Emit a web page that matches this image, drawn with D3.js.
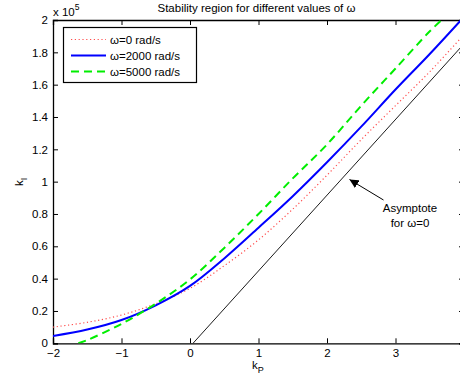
<!DOCTYPE html>
<html>
<head>
<meta charset="utf-8">
<script src="https://cdn.jsdelivr.net/npm/d3@7"></script>
<style>
  body { margin: 0; background: #fff; }
  text { font-family: "Liberation Sans", Arial, Helvetica, sans-serif; }
</style>
</head>
<body>
<svg id="chart" width="460" height="379"></svg>
<script>
// values (kI in absolute units)
const kpRed = [-2, -1.5, -1, -0.5, 0, 0.5, 1, 1.5, 2, 2.5, 3, 3.5, 4];
const kiRed = [10000, 13000, 17500, 24500, 34000, 48000, 64000, 83000, 104000, 126000, 147000, 168000, 191000];

const kpBlue = [-2, -1.5, -1, -0.5, 0, 0.5, 1, 1.5, 2, 2.5, 3, 3.5, 4];
const kiBlue = [4500, 8500, 14400, 23500, 35500, 52500, 71500, 91000, 112000, 134000, 157000, 179000, 202000];

const kpGreen = [-1.63, -1.5, -1, -0.5, 0, 0.5, 1, 1.5, 2, 2.5, 3, 3.5, 3.7];
const kiGreen = [0, 2000, 12000, 24500, 39500, 59000, 80000, 102000, 123000, 147000, 170000, 193000, 201000];

const kpAsym = [0.044, 4];
const kiAsym = [0, 185300];

const xTicks = [-2, -1, 0, 1, 2, 3, 4];
const yTicks = [0, 20000, 40000, 60000, 80000, 100000, 120000, 140000, 160000, 180000, 200000];

const legendLabels = ["ω=0 rad/s", "ω=2000 rad/s", "ω=5000 rad/s"];

const svg = d3.select("#chart");
const m = { left: 53, right: 464, top: 20, bottom: 343.3 };

const x = d3.scaleLinear().domain([-2, 4]).range([m.left, m.right]);
const y = d3.scaleLinear().domain([0, 200000]).range([m.bottom, m.top]);

svg.append("defs").append("clipPath").attr("id", "clip")
  .append("rect")
  .attr("x", m.left).attr("y", m.top)
  .attr("width", m.right - m.left).attr("height", m.bottom - m.top);

// the 4 label sits past the right edge of the picture, so it is left out
const fmtX = d => (d >= 4 ? "" : d < 0 ? "\u2212" + Math.abs(d) : String(d));
const fmtY = d => String(+(d / 1e5).toFixed(1));

// axes (matlab style, ticks inward, box on)
const gx = svg.append("g").attr("transform", `translate(0,${m.bottom})`)
  .call(d3.axisBottom(x).tickValues(xTicks).tickSize(-5).tickPadding(6).tickFormat(fmtX));
const gxTop = svg.append("g").attr("transform", `translate(0,${m.top})`)
  .call(d3.axisTop(x).tickValues(xTicks).tickSize(-5).tickFormat(""));
const gy = svg.append("g").attr("transform", `translate(${m.left},0)`)
  .call(d3.axisLeft(y).tickValues(yTicks).tickSize(-5).tickPadding(5).tickFormat(fmtY));
const gyR = svg.append("g").attr("transform", `translate(${m.right},0)`)
  .call(d3.axisRight(y).tickValues(yTicks).tickSize(-5).tickFormat(""));

[gx, gxTop, gy, gyR].forEach(g => {
  g.select(".domain").attr("stroke", "#000").attr("stroke-width", 1.3);
  g.selectAll(".tick line").attr("stroke", "#000").attr("stroke-width", 1);
  g.selectAll("text").attr("font-size", 11.5).attr("fill", "#000")
    .style("font-family", "'Liberation Sans', Arial, sans-serif");
});

// curves
const line = d3.line().x(d => x(d[0])).y(d => y(d[1])).curve(d3.curveCatmullRom.alpha(0.5));
const plot = svg.append("g").attr("clip-path", "url(#clip)");

plot.append("path").datum(d3.zip(kpAsym, kiAsym))
  .attr("d", line).attr("fill", "none").attr("stroke", "#000").attr("stroke-width", 0.9);

plot.append("path").datum(d3.zip(kpRed, kiRed))
  .attr("d", line).attr("fill", "none").attr("stroke", "#ff4d4d")
  .attr("stroke-width", 1.2).attr("stroke-dasharray", "1.2,2.6");

plot.append("path").datum(d3.zip(kpBlue, kiBlue))
  .attr("d", line).attr("fill", "none").attr("stroke", "#0000ff").attr("stroke-width", 2);

plot.append("path").datum(d3.zip(kpGreen, kiGreen))
  .attr("d", line).attr("fill", "none").attr("stroke", "#00ee00")
  .attr("stroke-width", 2).attr("stroke-dasharray", "8,5");

// legend
const leg = svg.append("g");
leg.append("rect").attr("x", 63.5).attr("y", 27.5).attr("width", 133).attr("height", 55)
  .attr("fill", "#fff").attr("stroke", "#000").attr("stroke-width", 1.2);
const styles = [
  { c: "#ff4d4d", w: 1.2, dash: "1.2,2.6" },
  { c: "#0000ff", w: 2, dash: null },
  { c: "#00ee00", w: 2, dash: "8,5" }
];
legendLabels.forEach((lab, i) => {
  const yy = 39.5 + i * 16;
  leg.append("line").attr("x1", 71).attr("x2", 106).attr("y1", yy).attr("y2", yy)
    .attr("stroke", styles[i].c).attr("stroke-width", styles[i].w)
    .attr("stroke-dasharray", styles[i].dash);
  leg.append("text").attr("x", 110).attr("y", yy + 4).attr("font-size", 11.5).text(lab);
});

// title
svg.append("text").attr("x", (m.left + m.right) / 2 - 2).attr("y", 12).attr("text-anchor", "middle")
  .attr("font-size", 11.5).text("Stability region for different values of ω");

// x 10^5 multiplier
const mult = svg.append("text").attr("x", 53).attr("y", 15.5).attr("font-size", 11.5);
mult.append("tspan").text("x 10");
mult.append("tspan").attr("dy", -6).attr("font-size", 8.5).text("5");

// axis labels
const xl = svg.append("text").attr("x", 252).attr("y", 369).attr("font-size", 11.5);
xl.append("tspan").text("k");
xl.append("tspan").attr("dy", 4).attr("font-size", 9).text("P");

const yl = svg.append("text").attr("transform", "translate(23,186) rotate(-90)").attr("font-size", 11.5);
yl.append("tspan").text("k");
yl.append("tspan").attr("dy", 4).attr("font-size", 9).text("I");

// annotation
svg.append("text").attr("x", 410).attr("y", 212).attr("text-anchor", "middle")
  .attr("font-size", 11.5).text("Asymptote");
svg.append("text").attr("x", 410).attr("y", 226.5).attr("text-anchor", "middle")
  .attr("font-size", 11.5).text("for ω=0");

svg.append("defs").append("marker").attr("id", "arr")
  .attr("viewBox", "0 0 10 10").attr("refX", 10).attr("refY", 5)
  .attr("markerWidth", 9).attr("markerHeight", 9).attr("markerUnits", "userSpaceOnUse")
  .attr("orient", "auto")
  .append("path").attr("d", "M0,0 L10,5 L0,10 Z").attr("fill", "#000");
svg.append("line").attr("x1", 383.5).attr("y1", 200).attr("x2", 349.5).attr("y2", 179.5)
  .attr("stroke", "#000").attr("stroke-width", 1).attr("marker-end", "url(#arr)");
</script>
</body>
</html>
